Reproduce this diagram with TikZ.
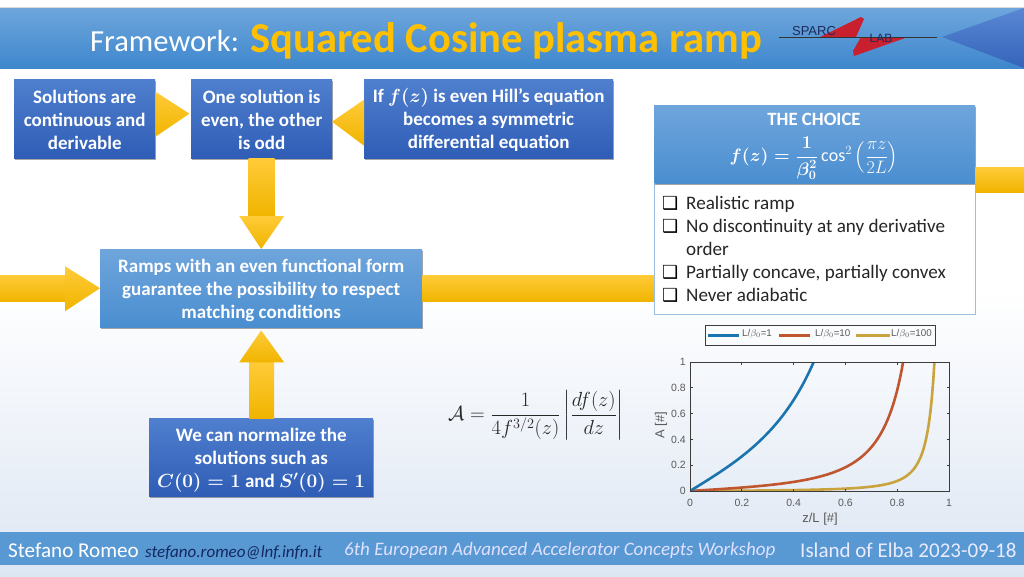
\documentclass[tikz,border=0pt]{standalone}
\usepackage{fix-cm}
\usepackage{amsmath}
\usepackage{fontspec}
\setmainfont{Carlito}
\newfontfamily\symfont{DejaVu Sans}
\newfontfamily\plotfont{Liberation Sans}
\usetikzlibrary{calc,shadows}
\definecolor{gold}{HTML}{FFC000}
\definecolor{goldT}{HTML}{FFCB38}
\definecolor{goldB}{HTML}{F0B400}
\definecolor{plotgrey}{HTML}{5A5A5A}
\definecolor{axisgrey}{HTML}{3C3C3C}
\definecolor{darkT}{HTML}{4F7FCE}
\definecolor{darkB}{HTML}{2F5DB6}
\definecolor{lightT}{HTML}{6FA5DC}
\definecolor{lightB}{HTML}{4A8ED0}
\definecolor{paneledge}{HTML}{9BBEE1}
\definecolor{bgend}{HTML}{DDE6F3}
\definecolor{headT}{HTML}{6EA6DC}
\definecolor{headB}{HTML}{3E87CD}
\definecolor{triT}{HTML}{5A87D4}
\definecolor{triB}{HTML}{3464BA}
\definecolor{footblue}{HTML}{5899D4}
\definecolor{logored}{HTML}{C8202E}
\definecolor{logotext}{HTML}{1F2A5A}
\definecolor{mailblue}{HTML}{14285F}
\definecolor{curveA}{HTML}{1A74AD}
\definecolor{curveB}{HTML}{BF5630}
\definecolor{curveC}{HTML}{C9A43E}
\tikzset{
  x=1pt,y=-1pt,
  softshadow/.style={drop shadow={shadow xshift=0.5pt,shadow yshift=-1.6pt,opacity=.35,fill=black}},
  basebox/.style={anchor=north west,inner sep=0pt,align=center,text=white,softshadow,
    font=\fontsize{19}{23}\selectfont\bfseries},
  darkbox/.style={basebox,top color=darkT,bottom color=darkB},
  lightbox/.style={basebox,top color=lightT,bottom color=lightB},
  goldfill/.style={top color=goldT,bottom color=goldB},
  listtext/.style={anchor=base west,inner sep=0pt,text=black!85,font=\fontsize{19.1}{20}\selectfont},
  checktext/.style={anchor=base west,inner sep=0pt,text=black,font=\fontsize{18}{20}\selectfont\symfont},
  foot/.style={anchor=west,inner sep=0pt},
  tick/.style={inner sep=0pt,text=plotgrey,font=\fontsize{10.5}{12}\selectfont\plotfont},
  axlabel/.style={inner sep=0pt,text=plotgrey,font=\fontsize{13}{14}\selectfont\plotfont},
  leglabel/.style={inner sep=0pt,anchor=west,text=plotgrey,font=\fontsize{9.8}{11}\selectfont\plotfont},
  curve/.style={line width=2.6pt,line join=round},
}
\begin{document}
\begin{tikzpicture}
\useasboundingbox (0,0) rectangle (1024,576);
% background
\fill[white] (0,0) rectangle (1024,576);
\shade[top color=white,bottom color=bgend] (0,290) rectangle (1024,576);
% header
\draw[black!15,line width=.8pt] (0,7.6) -- (1024,7.6);
\shade[top color=headT,bottom color=headB] (0,8) rectangle (1024,68);
\shade[top color=triT,bottom color=triB] (942,37) -- (1024,8) -- (1024,68) -- cycle;
\node[anchor=base west,inner sep=0pt,text=white,font=\fontsize{30.6}{34}\selectfont] (ttl) at (90,51) {Framework:};
\node[anchor=base west,inner sep=0pt,text=gold,font=\fontsize{42.6}{44}\selectfont\bfseries] (ttl2) at (250,52) {Squared Cosine plasma ramp};
% logo
\fill[logored] (820,37) -- (861,17) -- (864,19) -- (856,37) -- cycle;
\fill[logored] (861,37) -- (853,51) -- (854,56) -- (908,37) -- cycle;
\draw[black!80,line width=.7pt] (779,37) -- (937,37);
\node[inner sep=0pt,text=logotext,font=\fontsize{13}{14}\selectfont\plotfont] (sparc) at (814,31) {SPARC};
\node[inner sep=0pt,text=logotext,font=\fontsize{12}{14}\selectfont\plotfont] (lab) at (881,38) {LAB};
% footer
\fill[footblue] (0,532) rectangle (1024,565);
\node[foot,text=white,font=\fontsize{21.1}{22}\selectfont] (author) at (8,550) {Stefano Romeo};
\node[foot,text=mailblue,font=\fontsize{17}{18}\selectfont\itshape] (mail) at (145,552.5) {stefano.romeo@lnf.infn.it};
\node[foot,text=white!88!blue,font=\fontsize{19}{22}\selectfont\itshape] (conf) at (344,550.5) {6th European Advanced Accelerator Concepts Workshop};
\node[foot,text=white!92!blue,font=\fontsize{21}{22}\selectfont] (place) at (800,550) {Island of Elba 2023-09-18};
% boxes
\coordinate (leftedge) at (0,288);
\coordinate (rightedge) at (1024,180);
\node[darkbox,minimum width=141pt,minimum height=79pt] (sol) at (14,79) {\rule{0pt}{15.5pt}Solutions are\\continuous and\\derivable};
\node[darkbox,minimum width=141pt,minimum height=79pt] (one) at (191,79) {\rule{0pt}{15.5pt}One solution is\\even, the other\\is odd};
\node[darkbox,minimum width=249pt,minimum height=79pt] (hill) at (364,79) {\rule{0pt}{17pt}If {\boldmath$f(z)$} is even Hill’s equation\\becomes a symmetric\\differential equation};
\node[lightbox,minimum width=322pt,minimum height=78pt] (ramp) at (100,249) {\rule{0pt}{17.5pt}Ramps with an even functional form\\guarantee the possibility to respect\\matching conditions};
\node[darkbox,minimum width=224pt,minimum height=78pt] (norm) at (149,418) {\rule{0pt}{20pt}We can normalize the\\solutions such as\\{\boldmath$C(0)=1$} and {\boldmath$S'(0)=1$}};
% choice panel
\node[anchor=north west,inner sep=0pt,minimum width=321pt,minimum height=131pt,fill=white,draw=paneledge,line width=.8pt] (body) at (654,183) {};
\node[anchor=north west,inner sep=0pt,minimum width=321pt,minimum height=78pt,top color=lightT,bottom color=lightB,softshadow] (head) at (654,105) {};
\node[inner sep=0pt,text=white,font=\fontsize{18.8}{20}\selectfont\bfseries] (hd1) at (814,119) {THE CHOICE};
\node[inner sep=0pt,text=white,font=\fontsize{18}{20}\selectfont] (hd2) at (814,158) {{\boldmath$f(z)=\dfrac{1}{\beta_0^2}$}$\,\cos^2\left(\dfrac{\pi z}{2L}\right)$};
\node[checktext] (c1) at (662,209.5) {❑};
\node[listtext] (l1) at (686,209) {Realistic ramp};
\node[checktext] (c2) at (662,232.5) {❑};
\node[listtext] (l2) at (686,232) {No discontinuity at any derivative};
\node[listtext] (l2b) at (686,255) {order};
\node[checktext] (c3) at (662,278.5) {❑};
\node[listtext] (l3) at (686,278) {Partially concave, partially convex};
\node[checktext] (c4) at (662,301.5) {❑};
\node[listtext] (l4) at (686,301) {Never adiabatic};
% arrows
\shade[goldfill] (sol.east) ++(0,-27) -- ++(34,22) -- ++(-34,23) -- cycle;
\shade[goldfill] (hill.west) ++(0,-19) -- ++(0,46) -- ++(-32,-24) -- cycle;
\shade[goldfill] ($(one.south)+(-13,0)$) rectangle ($(one.south)+(13,58)$);
\shade[goldfill] ($(ramp.north)+(-22,-33)$) -- ($(ramp.north)+(23,-33)$) -- (ramp.north) -- cycle;
\shade[goldfill] ($(leftedge)+(0,-13)$) rectangle ($(ramp.west)+(-35,13)$);
\shade[goldfill] ($(ramp.west)+(-35,-22)$) -- (ramp.west) -- ($(ramp.west)+(-35,23)$) -- cycle;
\shade[goldfill] ($(ramp.east)+(0,-13)$) rectangle ($(body.west |- ramp.east)+(0,13)$);
\shade[goldfill] ($(head.east |- rightedge)+(0,-13)$) rectangle ($(rightedge)+(0,12)$);
\shade[goldfill] ($(norm.north)+(-12,-56)$) rectangle ($(norm.north)+(13,0)$);
\shade[goldfill] ($(ramp.south)+(0,3)$) -- ($(ramp.south)+(23,35)$) -- ($(ramp.south)+(-22,35)$) -- cycle;
\draw[paneledge,line width=.8pt] (body.north west) -- (body.south west);
% equation
\node[inner sep=0pt,text=black!85,font=\fontsize{20.4}{22}\selectfont] (eq) at (536,415) {$\mathcal{A}=\dfrac{1}{4f^{3/2}(z)}\left|\dfrac{df(z)}{dz}\right|$};
% plot legend
\node[anchor=north west,minimum width=230pt,minimum height=20pt,inner sep=0pt,draw=axisgrey,line width=1pt] (legend) at (705,325) {};
\draw[curve,curveA] (708,335.5) -- (739,335.5);
\node[leglabel] (lg1) at (742,334) {L/$\beta_0$=1};
\draw[curve,curveB] (779,335.5) -- (810,335.5);
\node[leglabel] (lg2) at (815,334) {L/$\beta_0$=10};
\draw[curve,curveC] (856,335.5) -- (890,335.5);
\node[leglabel] (lg3) at (891,334) {L/$\beta_0$=100};
% plot curves
\begin{scope}
\clip (690,362) rectangle (949,491);
\draw[curve,curveC,domain=0:0.96,samples=150,smooth] plot ({690+259*\x},{491-129*(3.14159/400)*sin(90*\x)/(cos(90*\x)*cos(90*\x))});
\draw[curve,curveB,domain=0:0.84,samples=100,smooth] plot ({690+259*\x},{491-129*(3.14159/40)*sin(90*\x)/(cos(90*\x)*cos(90*\x))});
\draw[curve,curveA,domain=0:0.49,samples=60,smooth] plot ({690+259*\x},{491-129*(3.14159/4)*sin(90*\x)/(cos(90*\x)*cos(90*\x))});
\end{scope}
% axes
\draw[axisgrey,line width=1pt] (690,362) rectangle (949,491);
\foreach \t in {0.2,0.4,0.6,0.8}{
  \draw[axisgrey,line width=.7pt] ({690+259*\t},491) -- ++(0,-2.5);
  \draw[axisgrey,line width=.7pt] ({690+259*\t},362) -- ++(0,2.5);
  \draw[axisgrey,line width=.7pt] (690,{491-129*\t}) -- ++(2.5,0);
  \draw[axisgrey,line width=.7pt] (949,{491-129*\t}) -- ++(-2.5,0);
}
\foreach \t/\l in {0/0,0.2/0.2,0.4/0.4,0.6/0.6,0.8/0.8,1/1}{
  \node[tick] at ({690+259*\t},503) {\l};
  \node[tick,anchor=east] at (686,{491-129*\t}) {\l};
}
\node[axlabel] (xl) at (820,519) {z/L [\#]};
\node[axlabel,rotate=90] (yl) at (661,425) {A [\#]};
\end{tikzpicture}
\end{document}
